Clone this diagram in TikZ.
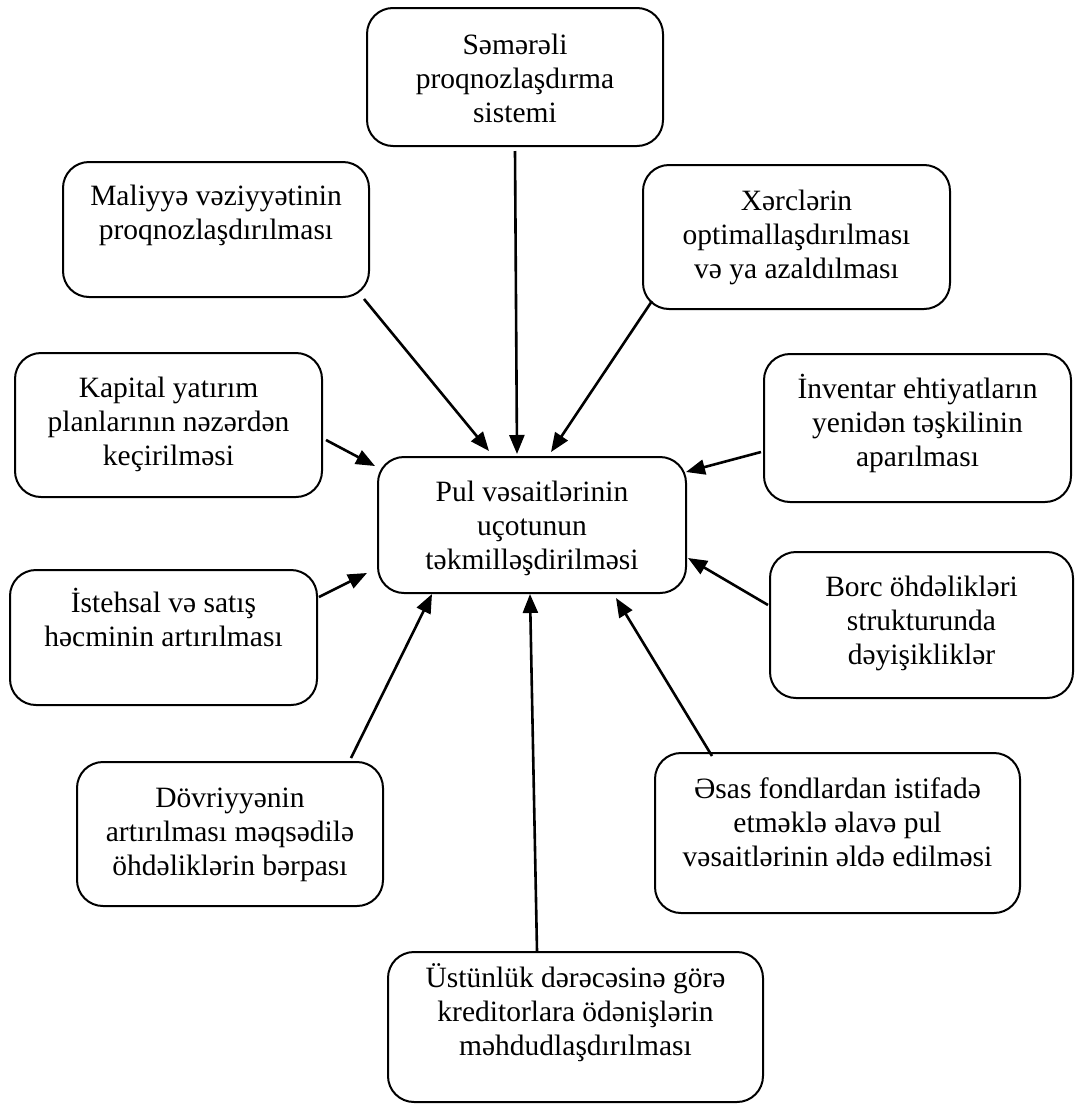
\documentclass[tikz,border=0pt]{standalone}
\usepackage{fontspec}
\setmainfont{Liberation Serif}
\usetikzlibrary{arrows.meta,calc}
\newcommand\mlines[1]{\vtop{\halign{\hfil##\hfil\cr#1\crcr}}}
\tikzset{
  boxnode/.style={draw=black, line width=2pt, rounded corners=26pt, inner sep=0pt},
  txtnode/.style={inner sep=0pt, anchor=base, font=\fontsize{29.5}{34}\selectfont},
  arr/.style={line width=2.6pt, -{Triangle[length=19pt,width=15pt]}}
}
\begin{document}
\begin{tikzpicture}[x=1pt,y=-1pt]
\useasboundingbox (0,0) rectangle (1074,1106);
% boxes
\node[boxnode, minimum width=296pt, minimum height=138pt] (sem)  at (515,77)     {};
\node[boxnode, minimum width=306pt, minimum height=135pt] (mal)  at (216,229.5)  {};
\node[boxnode, minimum width=307pt, minimum height=144pt] (xer)  at (796.5,237)  {};
\node[boxnode, minimum width=307pt, minimum height=144pt] (kap)  at (168.5,425)  {};
\node[boxnode, minimum width=307pt, minimum height=148pt] (inv)  at (917.5,428)  {};
\node[boxnode, minimum width=308pt, minimum height=136pt] (c)    at (532,525)    {};
\node[boxnode, minimum width=307pt, minimum height=135pt] (ist)  at (163.5,637.5){};
\node[boxnode, minimum width=303pt, minimum height=146pt] (borc) at (921.5,625)  {};
\node[boxnode, minimum width=306pt, minimum height=144pt] (dov)  at (230,834)    {};
\node[boxnode, minimum width=365pt, minimum height=160pt] (esas) at (837.5,833)  {};
\node[boxnode, minimum width=375pt, minimum height=150pt] (ust)  at (575.5,1027) {};
% texts
\node[txtnode] (tsem)  at (515,54)    {\mlines{Səmərəli\cr proqnozlaşdırma\cr sistemi}};
\node[txtnode] (tmal)  at (216,205)   {\mlines{Maliyyə vəziyyətinin\cr proqnozlaşdırılması}};
\node[txtnode] (txer)  at (796.5,210) {\mlines{Xərclərin\cr optimallaşdırılması\cr və ya azaldılması}};
\node[txtnode] (tkap)  at (168.5,397) {\mlines{Kapital yatırım\cr planlarının nəzərdən\cr keçirilməsi}};
\node[txtnode] (tinv)  at (917.5,398) {\mlines{İnventar ehtiyatların\cr yenidən təşkilinin\cr aparılması}};
\node[txtnode] (tc)    at (532,501)   {\mlines{Pul vəsaitlərinin\cr uçotunun\cr təkmilləşdirilməsi}};
\node[txtnode] (tist)  at (163.5,612) {\mlines{İstehsal və satış\cr həcminin artırılması}};
\node[txtnode] (tborc) at (921.5,596) {\mlines{Borc öhdəlikləri\cr strukturunda\cr dəyişikliklər}};
\node[txtnode] (tdov)  at (230,807)   {\mlines{Dövriyyənin\cr artırılması məqsədilə\cr öhdəliklərin bərpası}};
\node[txtnode] (tesas) at (837.5,798) {\mlines{Əsas fondlardan istifadə\cr etməklə əlavə pul\cr vəsaitlərinin əldə edilməsi}};
\node[txtnode] (tust)  at (575.5,987) {\mlines{Üstünlük dərəcəsinə görə\cr kreditorlara ödənişlərin\cr məhdudlaşdırılması}};
% arrows
\draw[arr] ($(sem.south)+(0,4)$) -- ($(c.north)+(-15,-2)$);
\draw[arr] ($(mal.south east)+(-6,1)$) -- ($(c.north west)+(112,-5)$);
\draw[arr] ($(xer.south west)+(10,-9)$) -- ($(c.north west)+(174,-4)$);
\draw[arr] ($(kap.east)+(3,15)$) -- ($(c.north west)+(-2,10)$);
\draw[arr] ($(inv.west)+(-2,24)$) -- ($(c.north east)+(-1,16)$);
\draw[arr] ($(ist.east)+(1,-40.5)$) -- ($(c.west)+(-10,48)$);
\draw[arr] ($(borc.west)+(-1,-20)$) -- ($(c.east)+(1,33)$);
\draw[arr] ($(dov.north east)+(-33,-3)$) -- ($(c.south west)+(55,0)$);
\draw[arr] ($(ust.north)+(-38.5,0)$) -- ($(c.south)+(-2,0)$);
\draw[arr] ($(esas.north west)+(58,4)$) -- ($(c.south east)+(-71,4)$);
\end{tikzpicture}
\end{document}
